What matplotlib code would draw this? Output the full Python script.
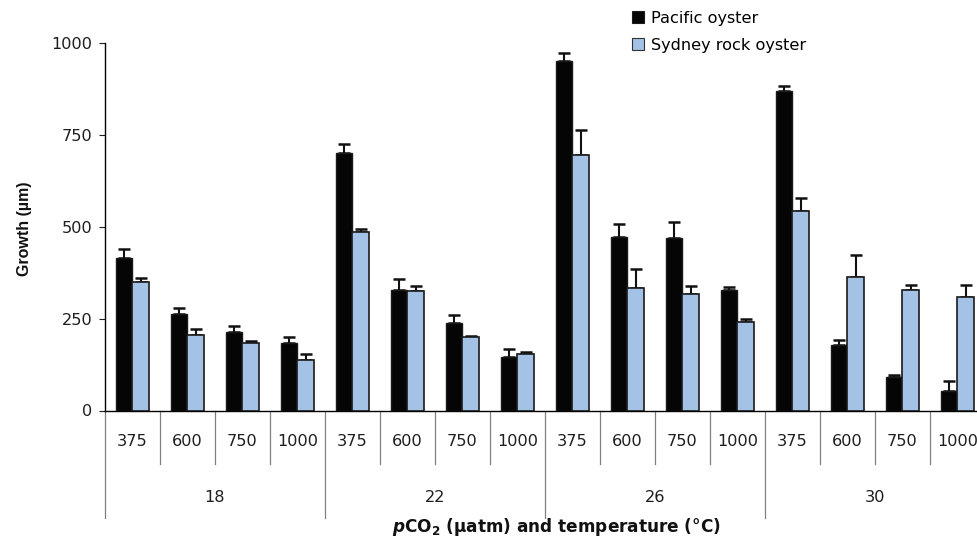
import matplotlib
matplotlib.use("Agg")
import matplotlib.pyplot as plt
from matplotlib.patches import Patch
import numpy as np

plt.rcParams['font.family'] = ['DejaVu Sans']
plt.rcParams['mathtext.fontset'] = 'custom'
plt.rcParams['mathtext.rm'] = 'DejaVu Sans:bold'
plt.rcParams['mathtext.it'] = 'DejaVu Sans:bold:italic'
plt.rcParams['mathtext.bf'] = 'DejaVu Sans:bold'

# Treatments: pCO2 level within each temperature
temperatures = ["18", "22", "26", "30"]
pco2_levels = ["375", "600", "750", "1000"]

# Mean growth (µm) and standard error
pacific = [414, 262, 213, 183, 702, 328, 238, 145, 950, 471, 469, 329, 869, 179, 91, 52]
pacific_err = [25, 17, 17, 17, 24, 31, 23, 22, 24, 37, 44, 7, 15, 13, 5, 27]
sydney = [349, 206, 183, 138, 487, 324, 200, 153, 694, 334, 318, 240, 542, 364, 328, 308]
sydney_err = [11, 16, 5, 17, 7, 15, 2, 6, 70, 52, 22, 9, 36, 59, 14, 34]

W, H = 978, 539
fig = plt.figure(figsize=(W / 100, H / 100), dpi=100)

# axes in pixel coordinates (the last group runs past the right edge)
x0, x1 = 105, 985
y_top, y_bot = 43, 410.5
ax = fig.add_axes([x0 / W, 1 - y_bot / H, (x1 - x0) / W, (y_bot - y_top) / H])

n = len(temperatures) * len(pco2_levels)
centers = np.arange(n) + 0.5
bw = 0.30
blue = '#a3c2e6'
txt = '#1e1e1e'
fs = 11.6

ax.bar(centers - bw / 2, pacific, width=bw, color='#050505', edgecolor='#1a1a1a',
       linewidth=1.0, zorder=3, label='Pacific oyster')
ax.bar(centers + bw / 2, sydney, width=bw, color=blue, edgecolor='#1a1a1a',
       linewidth=1.2, zorder=3, label='Sydney rock oyster')

zeros = np.zeros(n)
ax.errorbar(centers - bw / 2, pacific, yerr=[zeros, pacific_err], fmt='none',
            ecolor='#111111', elinewidth=1.5, capsize=4, capthick=1.8, zorder=2)
ax.errorbar(centers + bw / 2, sydney, yerr=[zeros, sydney_err], fmt='none',
            ecolor='#111111', elinewidth=1.5, capsize=4, capthick=1.8, zorder=2)

ax.set_xlim(0, n)
ax.set_ylim(0, 1000)
ax.set_yticks([0, 250, 500, 750, 1000])
ax.tick_params(axis='y', direction='out', length=4, width=0.8, labelsize=fs, pad=5,
               colors=txt)
ax.set_xticks([])
for s in ('top', 'right'):
    ax.spines[s].set_visible(False)
ax.spines['left'].set_linewidth(1.0)
ax.spines['bottom'].set_linewidth(1.0)

# table-style category axis below the plot
def frac(py):
    return (y_bot - py) / (y_bot - y_top)

tr = ax.get_xaxis_transform()
for i in range(n + 1):
    low = frac(518) if i % 4 == 0 else frac(464)
    ax.plot([i, i], [0, low], transform=tr, color='#808080', lw=0.9,
            clip_on=False, zorder=1)
for i in range(n):
    ax.text(centers[i], frac(441), pco2_levels[i % 4], transform=tr,
            ha='center', va='center', fontsize=fs, color=txt, clip_on=False)
for g, t in enumerate(temperatures):
    ax.text(g * 4 + 2, frac(497), t, transform=tr, ha='center', va='center',
            fontsize=fs, color=txt, clip_on=False)

fig.text(556 / W, 1 - 527 / H, r'$p$CO$_2$ (µatm) and temperature (°C)',
         ha='center', va='center', fontsize=12.2, fontweight='bold', color='#111111')
fig.text(25 / W, 1 - 229 / H, 'Growth (µm)', rotation=90, ha='center', va='center',
         fontsize=11.5, fontweight='bold', color='#111111',
         family=['Liberation Sans', 'DejaVu Sans'])

handles = [Patch(facecolor='#050505', edgecolor='#1a1a1a', linewidth=0.8),
           Patch(facecolor=blue, edgecolor='#333333', linewidth=0.8)]
fig.legend(handles, ['Pacific oyster', 'Sydney rock oyster'], loc='upper left',
           bbox_to_anchor=(632 / W, 1 - 11 / H), bbox_transform=fig.transFigure,
           frameon=False, fontsize=fs, handlelength=0.75, handleheight=0.75,
           handletextpad=0.45, labelspacing=0.72, borderpad=0, borderaxespad=0)

fig.savefig('out.png', dpi=100)
